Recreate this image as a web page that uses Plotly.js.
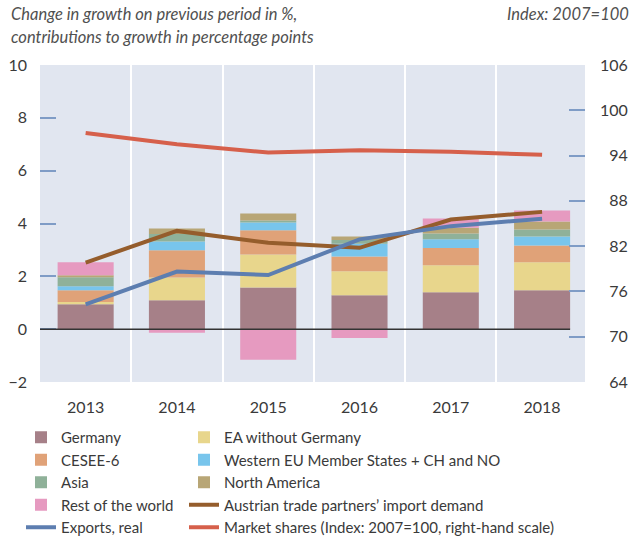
<!DOCTYPE html>
<html>
<head>
<meta charset="utf-8">
<script src="https://cdn.plot.ly/plotly-3.0.1.min.js"></script>
<style>html,body{margin:0;padding:0;background:#fff;}#chart{width:640px;height:540px;}</style>
</head>
<body>
<div id="chart"></div>
<script>
var years = ['2013', '2014', '2015', '2016', '2017', '2018'];
var germany      = [0.94, 1.09, 1.58, 1.28, 1.40, 1.47];
var eaExGermany  = [0.09, 0.87, 1.25, 0.91, 1.02, 1.06];
var cesee6       = [0.44, 1.03, 0.91, 0.56, 0.65, 0.64];
var westernEU    = [0.15, 0.33, 0.30, 0.48, 0.33, 0.34];
var asia         = [0.35, 0.28, 0.07, 0.15, 0.22, 0.26];
var northAmerica = [0.07, 0.21, 0.27, 0.13, 0.22, 0.31];
var restOfWorld  = [0.49, -0.14, -1.16, -0.33, 0.35, 0.41];
var importDemand = [2.52, 3.72, 3.27, 3.08, 4.15, 4.44];
var exportsReal  = [0.94, 2.18, 2.05, 3.40, 3.90, 4.18];
var marketShares = [97.0, 95.5, 94.4, 94.7, 94.5, 94.1];
var leftTicks  = [-2, 0, 2, 4, 6, 8, 10];
var rightTicks = [64, 70, 76, 82, 88, 94, 100, 106];
var forecastStart = '2016';

var FONT = 'Lato, "Open Sans", sans-serif';
var TXT = '#3a3a3a';
var PW = 545, PH = 317, ML = 40, MT = 65;
var BARGAP = 0.386;
function px(x) { return (x - ML) / PW; }
function py(y) { return 1 - (y - MT) / PH; }

function bar(name, vals, color, leg) {
  return {type: 'bar', name: name, x: years, y: vals, marker: {color: color, line: {width: 0}},
          legend: leg, hoverinfo: 'skip'};
}
function line(name, vals, color, leg, yaxis) {
  return {type: 'scatter', mode: 'lines', name: name, x: years, y: vals, yaxis: yaxis || 'y',
          line: {color: color, width: 4}, legend: leg, hoverinfo: 'skip'};
}

var traces = [
  bar('Germany', germany, '#a68088', 'legend'),
  bar('EA without Germany', eaExGermany, '#e8d68c', 'legend2'),
  bar('CESEE-6', cesee6, '#e0a278', 'legend'),
  bar('Western EU Member States + CH and NO', westernEU, '#78c5ec', 'legend2'),
  bar('Asia', asia, '#8fb199', 'legend'),
  bar('North America', northAmerica, '#b8a676', 'legend2'),
  bar('Rest of the world', restOfWorld, '#e69ac0', 'legend'),
  line('Austrian trade partners\u2019 import demand', importDemand, '#955d2c', 'legend2'),
  line('Exports, real', exportsReal, '#5d7eb0', 'legend'),
  line('Market shares (Index: 2007=100, right-hand scale)', marketShares, '#d6604b', 'legend2', 'y2')
];

var fIdx = years.indexOf(forecastStart) - 0.5;
var zeroEnd = years.length - 1 + (1 - BARGAP) / 2;

var legendCommon = {
  orientation: 'v', xanchor: 'left', yanchor: 'top',
  bgcolor: 'rgba(0,0,0,0)', font: {family: FONT, size: 15, color: TXT}, traceorder: 'normal',
  itemclick: false, itemdoubleclick: false
};

var layout = {
  width: 640, height: 540,
  margin: {l: ML, r: 55, t: MT, b: 158, autoexpand: false},
  paper_bgcolor: '#ffffff',
  plot_bgcolor: '#e1e6f0',
  barmode: 'relative',
  bargap: BARGAP,
  font: {family: FONT, size: 16, color: TXT},
  showlegend: true,
  hovermode: false,
  legend: Object.assign({}, legendCommon, {x: px(21), y: py(421)}),
  legend2: Object.assign({}, legendCommon, {x: px(184), y: py(421)}),
  xaxis: {
    type: 'category', range: [-0.5, 5.47], tickson: 'boundaries', ticks: '',
    showgrid: true, gridcolor: '#ffffff', gridwidth: 2, showline: false, zeroline: false,
    tickfont: {family: FONT, size: 16, color: TXT}, ticklabelstandoff: 14, fixedrange: true
  },
  yaxis: {
    range: [-2, 10], tickvals: leftTicks, ticks: 'inside', ticklen: 16, tickwidth: 2, tickcolor: '#7f9cc6',
    showgrid: false, zeroline: false, showline: false,
    tickfont: {family: FONT, size: 16, color: TXT}, ticklabelstandoff: 12, fixedrange: true
  },
  yaxis2: {
    overlaying: 'y', side: 'right', range: [64, 106], tickvals: rightTicks,
    ticktext: rightTicks.map(function (v) { return (v < 100 ? '\u2007' : '') + v; }),
    ticks: 'inside', ticklen: 16, tickwidth: 2, tickcolor: '#7f9cc6',
    showgrid: false, zeroline: false, showline: false,
    tickfont: {family: FONT, size: 16, color: TXT}, ticklabelstandoff: 14, fixedrange: true
  },
  shapes: [
    {type: 'line', xref: 'x', yref: 'paper', x0: fIdx, x1: fIdx, y0: 0, y1: 1,
     line: {color: '#5d7eb0', width: 1.2}, layer: 'below'},
    {type: 'line', xref: 'x', yref: 'y', x0: -0.5, x1: zeroEnd, y0: 0, y1: 0,
     line: {color: '#333333', width: 1.5}, layer: 'above'}
  ],
  annotations: [
    {xref: 'x', yref: 'y', x: '2017', y: 8.3, text: 'Forecast', showarrow: false,
     font: {family: FONT, size: 16, color: '#333333'}},
    {xref: 'paper', yref: 'paper', x: px(9), y: py(14), xanchor: 'left', yanchor: 'middle',
     text: '<i>Change in growth on previous period in %,</i>', showarrow: false,
     font: {family: FONT, size: 16.5, color: '#505050'}},
    {xref: 'paper', yref: 'paper', x: px(9), y: py(37), xanchor: 'left', yanchor: 'middle',
     text: '<i>contributions to growth in percentage points</i>', showarrow: false,
     font: {family: FONT, size: 16.5, color: '#505050'}},
    {xref: 'paper', yref: 'paper', x: px(631), y: py(14), xanchor: 'right', yanchor: 'middle',
     text: '<i>Index: 2007=100</i>', showarrow: false,
     font: {family: FONT, size: 16.5, color: '#505050'}}
  ]
};

Plotly.newPlot('chart', traces, layout, {displayModeBar: false, staticPlot: true});
</script>
</body>
</html>
